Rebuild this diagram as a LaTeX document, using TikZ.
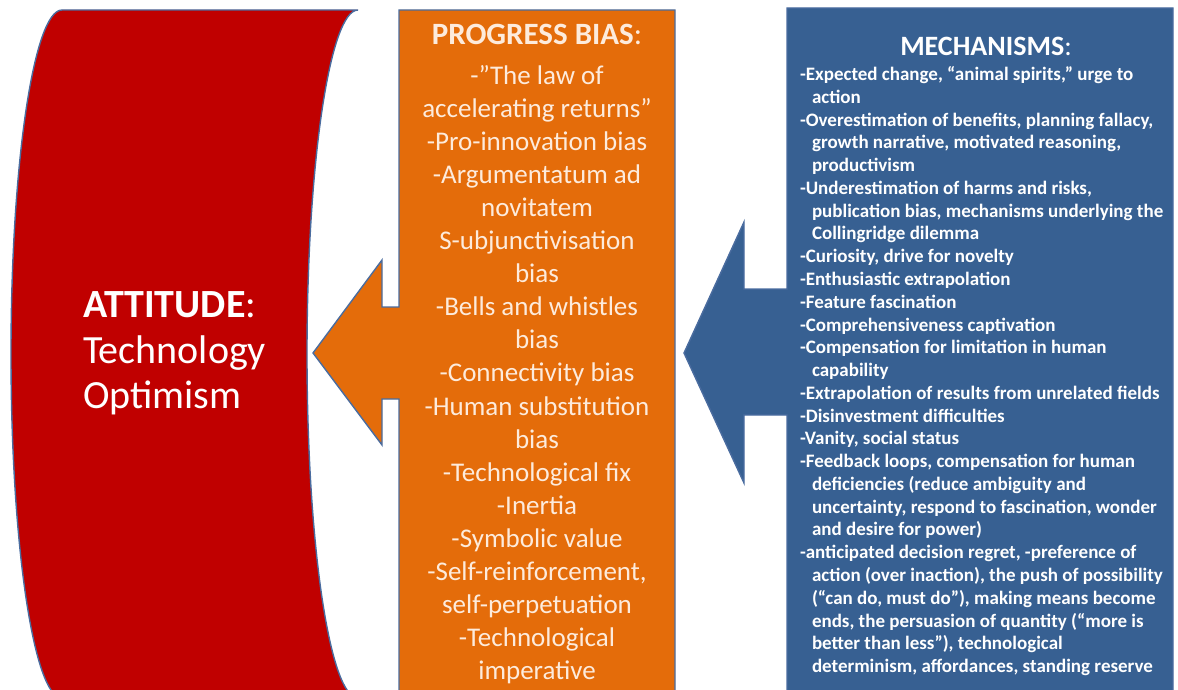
\documentclass[tikz,border=0pt]{standalone}
\usepackage{fontspec}
\setmainfont{Carlito}
\definecolor{attred}{HTML}{C00000}
\definecolor{biasorange}{HTML}{E46C0A}
\definecolor{mechblue}{HTML}{376092}
\definecolor{edgeblue}{HTML}{4A6C9F}
\definecolor{creamtext}{HTML}{FDEBDC}
\begin{document}
\begin{tikzpicture}[x=1pt,y=-1pt,
  panel/.style={draw=edgeblue, line width=1.4pt, line join=miter},
  txt/.style={inner sep=0pt, outer sep=0pt}]
\useasboundingbox (0,0) rectangle (1178,690);
\clip (0,0) rectangle (1178,690);

% curved attitude band
\path[panel, fill=attred]
  (62,10) -- (358,10)
  .. controls (329.8,10) and (307,164) .. (307,354)
  .. controls (307,544) and (329.8,698) .. (358,698)
  -- (62,698)
  .. controls (33.8,698) and (11,544) .. (11,354)
  .. controls (11,164) and (33.8,10) .. (62,10) -- cycle;

% progress bias: left arrow callout
\path[panel, fill=biasorange]
  (399,10) -- (675,10) -- (675,700) -- (399,700) -- (399,399)
  -- (382,399) -- (382,445) -- (313,353) -- (382,260) -- (382,307)
  -- (399,307) -- cycle;

% mechanisms: left arrow callout
\path[panel, fill=mechblue]
  (787,8) -- (1173,8) -- (1173,700) -- (787,700) -- (787,415)
  -- (744,415) -- (744,483) -- (684,353) -- (744,222) -- (744,289)
  -- (787,289) -- cycle;

\node[txt, anchor=north west, text=white, align=left,
  font=\fontsize{40}{45.5}\selectfont] (attitude) at (83,292)
  {\textbf{ATTITUDE}:\\Technology\\Optimism};

\node[txt, anchor=north, text=creamtext,
  font=\fontsize{31}{36}\selectfont\bfseries] (biashead) at (537,24)
  {PROGRESS BIAS\mdseries:};

\node[txt, anchor=north, text=creamtext, align=center,
  font=\fontsize{27}{33.1}\selectfont] (bias) at (537,65)
  {-”The law of\\
   accelerating returns”\\
   -Pro-innovation bias\\
   -Argumentatum ad\\
   novitatem\\
   S-ubjunctivisation\\
   bias\\
   -Bells and whistles\\
   bias\\
   -Connectivity bias\\
   -Human substitution\\
   bias\\
   -Technological fix\\
   -Inertia\\
   -Symbolic value\\
   -Self-reinforcement,\\
   self-perpetuation\\
   -Technological\\
   imperative};

\node[txt, anchor=north, text=white,
  font=\fontsize{28}{32}\selectfont\bfseries] (mechhead) at (986,37)
  {MECHANISMS\mdseries:};

\node[txt, anchor=north west, text=white, align=left,
  font=\fontsize{19}{22.77}\selectfont\bfseries] (mech) at (800,66.5)
  {-Expected change, “animal spirits,” urge to\\
   \hspace*{12pt}action\\
   -Overestimation of benefits, planning fallacy,\\
   \hspace*{12pt}growth narrative, motivated reasoning,\\
   \hspace*{12pt}productivism\\
   -Underestimation of harms and risks,\\
   \hspace*{12pt}publication bias, mechanisms underlying the\\
   \hspace*{12pt}Collingridge dilemma\\
   -Curiosity, drive for novelty\\
   -Enthusiastic extrapolation\\
   -Feature fascination\\
   -Comprehensiveness captivation\\
   -Compensation for limitation in human\\
   \hspace*{12pt}capability\\
   -Extrapolation of results from unrelated fields\\
   -Disinvestment difficulties\\
   -Vanity, social status\\
   -Feedback loops, compensation for human\\
   \hspace*{12pt}deficiencies (reduce ambiguity and\\
   \hspace*{12pt}uncertainty, respond to fascination, wonder\\
   \hspace*{12pt}and desire for power)\\
   -anticipated decision regret, -preference of\\
   \hspace*{12pt}action (over inaction), the push of possibility\\
   \hspace*{12pt}(“can do, must do”), making means become\\
   \hspace*{12pt}ends, the persuasion of quantity (“more is\\
   \hspace*{12pt}better than less”), technological\\
   \hspace*{12pt}determinism, affordances, standing reserve};
\end{tikzpicture}
\end{document}
